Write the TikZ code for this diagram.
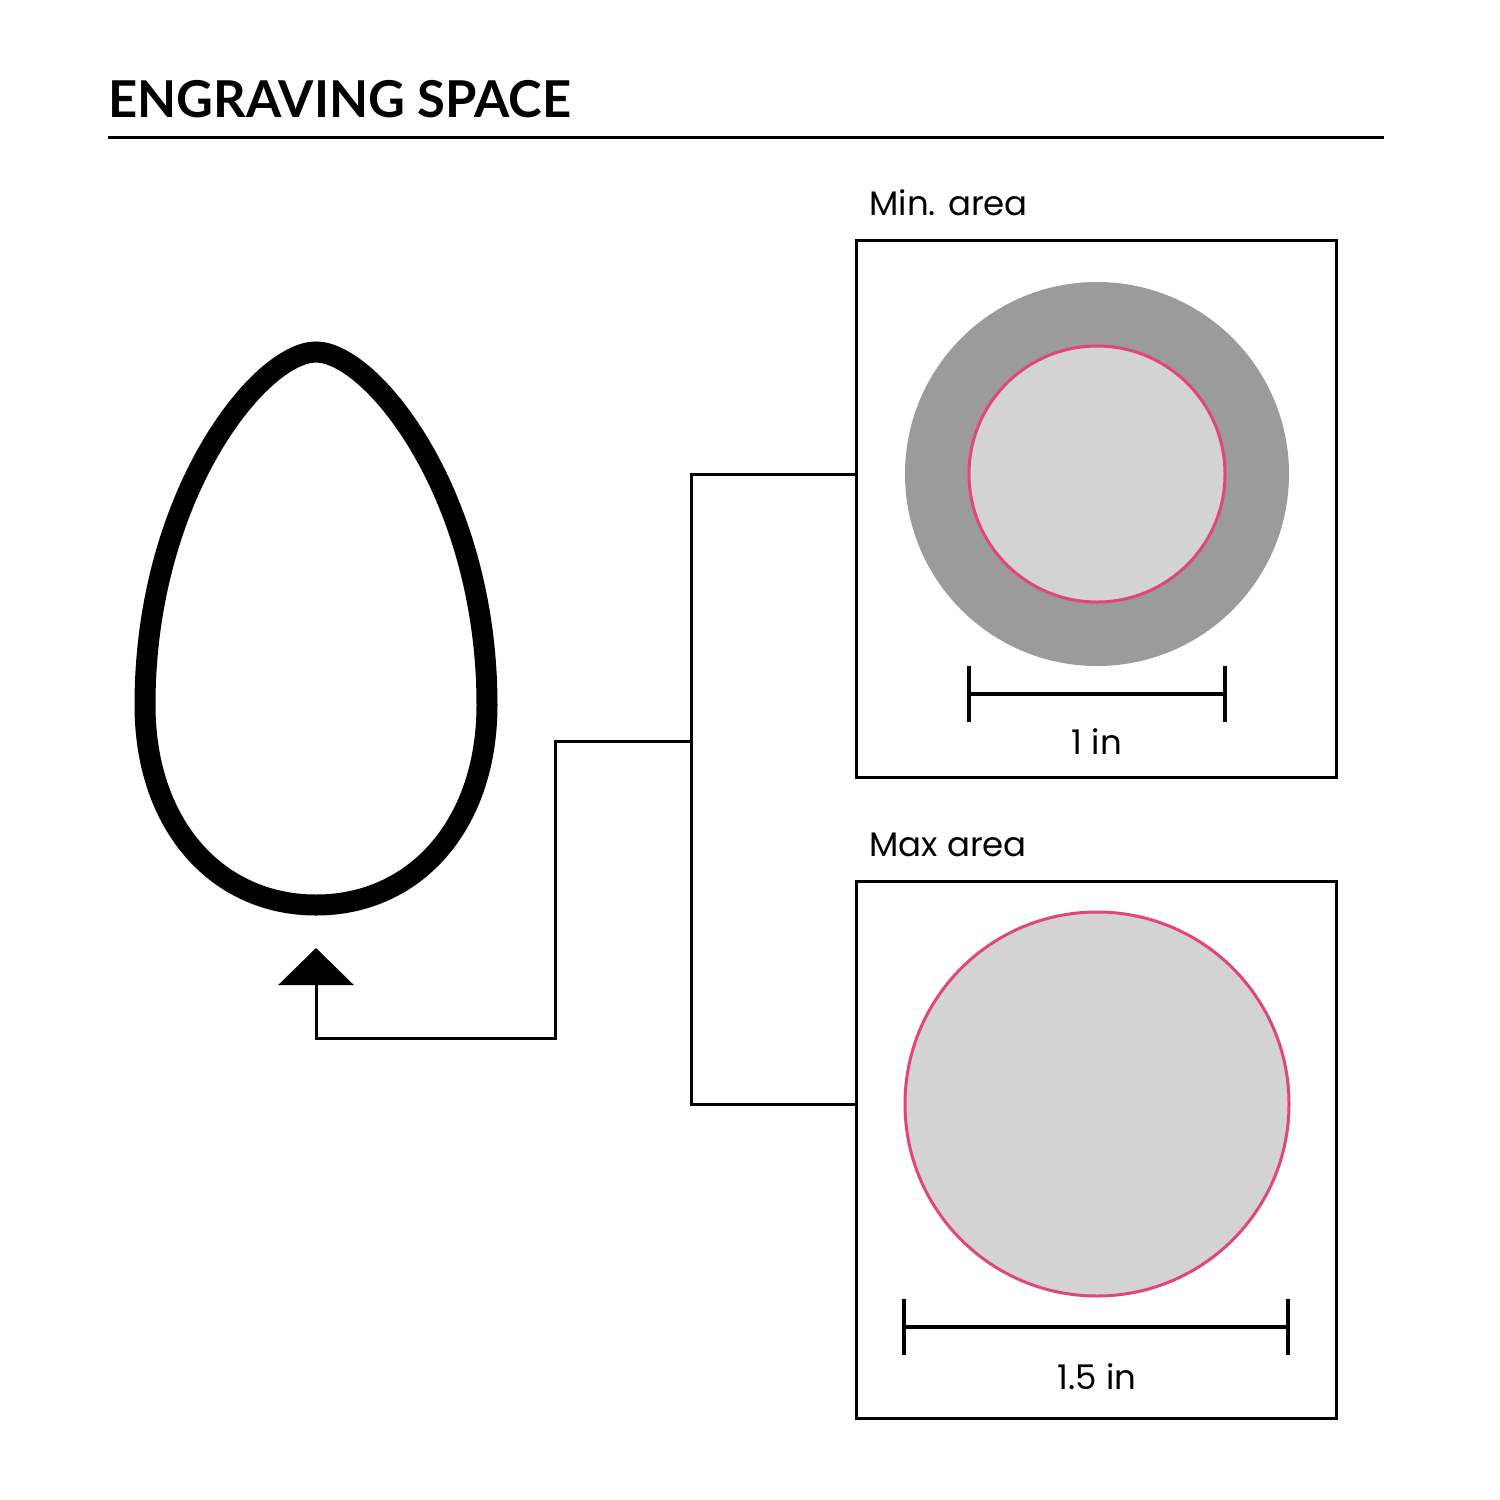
\documentclass[tikz,border=0pt]{standalone}
\usepackage{fontspec}
\setmainfont{Poppins}
\newfontfamily\titlefont{Lato}
\usetikzlibrary{arrows.meta}
\definecolor{pinkline}{HTML}{E0457B}
\definecolor{darkgrey}{HTML}{9B9B9B}
\definecolor{lightgrey}{HTML}{D3D3D3}
\tikzset{
  panel/.style={draw=black, line width=1.5pt, minimum width=240pt, minimum height=268.5pt, inner sep=0pt},
  conn/.style={draw=black, line width=1.5pt},
  dimline/.style={draw=black, line width=2pt},
  label/.style={anchor=base west, inner sep=0pt, font=\fontsize{17pt}{20pt}\selectfont},
  dimlabel/.style={anchor=base, inner sep=0pt, font=\fontsize{17pt}{20pt}\selectfont},
}
\begin{document}
\begin{tikzpicture}[x=0.5pt,y=-0.5pt]
\useasboundingbox (0,0) rectangle (1500,1500);
% title
\node[anchor=base west, inner sep=0pt, font=\titlefont\bfseries\fontsize{25.4pt}{30pt}\selectfont] (title) at (108,117) {ENGRAVING SPACE};
\draw[line width=1.5pt] (108,137) -- (1384,137);
% egg
\draw[line width=10.5pt] (316,352) .. controls (372,352) and (487,495) .. (487,705)
  .. controls (487,825) and (415,905) .. (316,905)
  .. controls (217,905) and (145,825) .. (145,705)
  .. controls (145,495) and (260,352) .. (316,352) -- cycle;
% panels
\node[panel] (box1) at (1096,508.5) {};
\node[panel] (box2) at (1096,1149.5) {};
\node[label] (lab1) at (869,215) {Min. area};
\node[label] (lab2) at (869,856) {Max area};
% min circles
\fill[darkgrey] (1097,474) circle[radius=96pt];
\node[circle, fill=lightgrey, draw=pinkline, line width=1.5pt, minimum size=128pt, inner sep=0pt] (c1) at (1097,474) {};
% max circle
\node[circle, fill=lightgrey, draw=pinkline, line width=1.5pt, minimum size=192pt, inner sep=0pt] (c2) at (1097,1104) {};
% dimensions
\draw[dimline] (969,694) -- (1225,694);
\draw[dimline] (969,666) -- (969,722);
\draw[dimline] (1225,666) -- (1225,722);
\node[dimlabel] (d1) at (1097,754) {1 in};
\draw[dimline] (904,1327) -- (1288,1327);
\draw[dimline] (904,1299) -- (904,1355);
\draw[dimline] (1288,1299) -- (1288,1355);
\node[dimlabel] (d2) at (1097,1389) {1.5 in};
% connectors
\coordinate (j) at (691,741);
\coordinate (tip) at (316,948);
\draw[conn] (c1 -| box1.west) -- (691,474) |- (c2 -| box2.west);
\draw[conn, -{Triangle[width=37.5pt,length=18.5pt]}] (j) -- (555,741) |- (316,1038) -- (tip);
\end{tikzpicture}
\end{document}
